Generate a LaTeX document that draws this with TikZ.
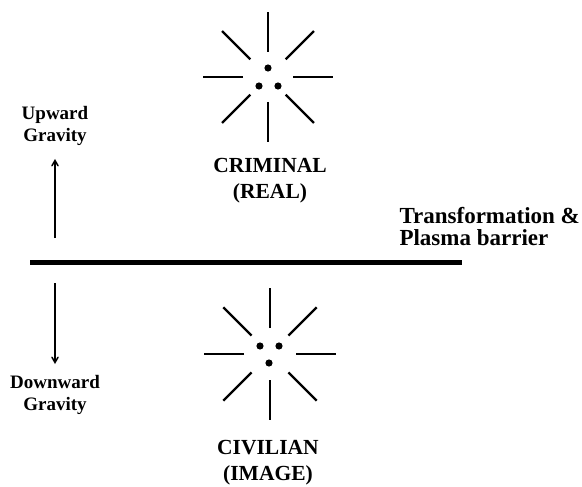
\documentclass[tikz,border=0pt]{standalone}
\usepackage{fontspec}
\setmainfont{Liberation Serif}
\usetikzlibrary{arrows}
\usetikzlibrary{positioning}

\begin{document}
\begin{tikzpicture}[x=1pt,y=-1pt,
    ray/.style={line width=2.4pt},
    lab/.style={font=\bfseries\fontsize{21.5}{26}\selectfont,align=center},
    side/.style={font=\bfseries\fontsize{19}{22}\selectfont,align=center},
    gravity/.style={line width=1.5pt,->,>=angle 60}]

  \useasboundingbox (0,0) rectangle (582,487);

  \coordinate (crim) at (268,77);
  \coordinate (civ) at (270,354);

  \foreach \a in {0,45,...,315} {
    \draw [ray] (crim) ++(\a:25) -- ++(\a:40);
    \draw [ray] (civ) ++(\a:26) -- ++(\a:40);
  }

  \fill (crim) ++(0,-9) circle (3.6pt);
  \fill (crim) ++(-9,9) circle (3.6pt);
  \fill (crim) ++(10,9) circle (3.6pt);

  \fill (civ) ++(-10,-8) circle (3.6pt);
  \fill (civ) ++(9,-8) circle (3.6pt);
  \fill (civ) ++(-1,9) circle (3.6pt);

  \node [lab] (criminal) at (270,181) {CRIMINAL\\(REAL)};
  \node [lab] (civilian) at (268,463) {CIVILIAN\\(IMAGE)};

  \node [side] (up) at (55,126) {Upward\\Gravity};
  \node [side] (down) at (55,395) {Downward\\Gravity};

  \node [font=\bfseries\fontsize{23}{22}\selectfont,align=left,anchor=west] (barrier) at (396,227) {Transformation \&\\Plasma barrier};

  \coordinate (bl) at (30,262);
  \coordinate (br) at (462,262);
  \draw [line width=5pt] (bl) -- (br);

  \coordinate (upfoot) at (55,238);
  \coordinate (uptip) at (55,159);
  \coordinate (downfoot) at (55,283);
  \coordinate (downtip) at (55,364);

  \draw [gravity] (upfoot) -- (uptip);
  \draw [gravity] (downfoot) -- (downtip);

\end{tikzpicture}
\end{document}
